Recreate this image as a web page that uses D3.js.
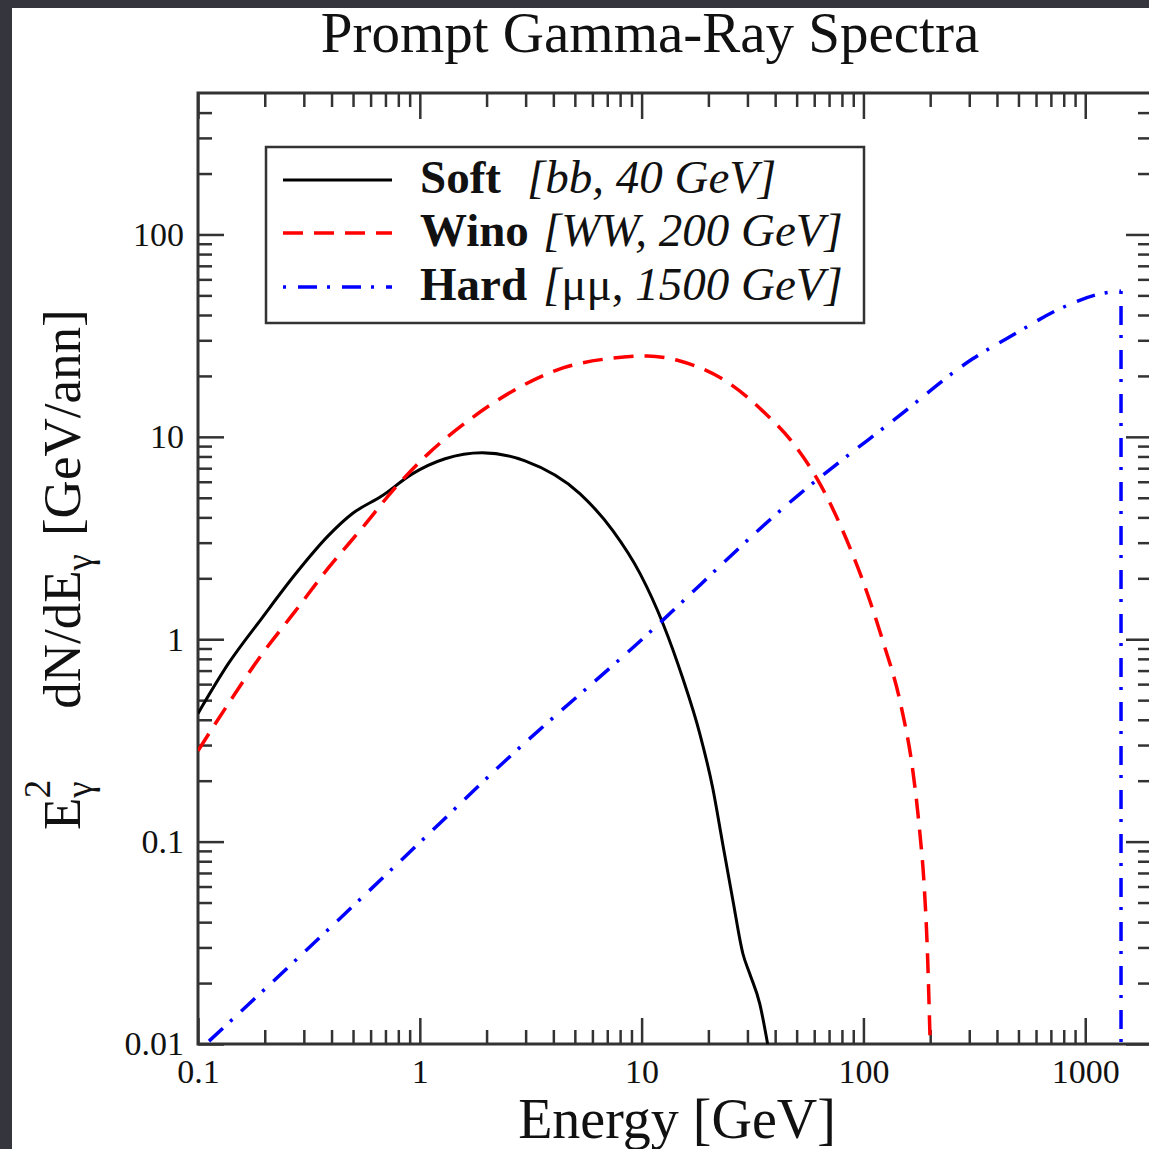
<!DOCTYPE html>
<html>
<head>
<meta charset="utf-8">
<script src="https://cdn.jsdelivr.net/npm/d3@7"></script>
<style>
  html, body { margin: 0; padding: 0; background: #ffffff; }
  svg { display: block; }
  text { font-family: "Liberation Serif", "Times New Roman", serif; fill: #111; }
</style>
</head>
<body>
<div id="chart"></div>
<script>
// ---------------- DATA ----------------
const xMajorTicks = [0.1, 1, 10, 100, 1000];
const xTickLabels = ["0.1", "1", "10", "100", "1000"];
const yMajorTicks = [0.01, 0.1, 1, 10, 100];
const yTickLabels = ["0.01", "0.1", "1", "10", "100"];

const seriesNames = ["Soft", "Wino", "Hard"];
const seriesNotesA = ["[bb, 40 GeV]", "[WW, 200 GeV]", "["];
const seriesNotesB = ["", "", "\u03bc\u03bc,"];
const seriesNotesC = ["", "", " 1500 GeV]"];

// Soft [bb, 40 GeV]
const softE = [0.1, 0.137, 0.195, 0.275, 0.387, 0.497, 0.676, 0.925, 1.30, 1.91, 2.98, 5.28, 7.43, 9.84, 12.5, 15.3, 18.3, 20.9, 23.2, 25.8, 28.6, 30.7, 34.1, 37];
const softV = [0.43, 0.757, 1.28, 2.10, 3.25, 4.18, 5.11, 6.56, 7.79, 8.34, 7.61, 5.23, 3.43, 2.11, 1.19, 0.645, 0.341, 0.185, 0.0977, 0.0512, 0.028, 0.0223, 0.0158, 0.01];

// Wino [WW, 200 GeV]
const winoE = [0.1, 0.137, 0.195, 0.275, 0.387, 0.55, 0.774, 1.09, 1.65, 2.64, 4.42, 7.43, 10.6, 14.9, 25.0, 35.2, 50.0, 63.7, 84, 99.6, 122, 148, 167, 179, 188, 194, 200];
const winoV = [0.281, 0.48, 0.848, 1.38, 2.25, 3.55, 5.60, 8.24, 12.0, 16.9, 21.9, 24.5, 25.1, 23.7, 18.3, 13.4, 8.83, 5.86, 3.10, 1.93, 0.99, 0.465, 0.224, 0.115, 0.060, 0.030, 0.01];

// Hard [mu mu, 1500 GeV]
const hardE = [0.1, 0.3, 1, 2.43, 9.55, 51.7, 141, 311, 490, 750, 1222, 1450];
const hardV = [0.0092, 0.0283, 0.099, 0.251, 0.95, 5.23, 12.4, 24.3, 32.6, 42.4, 51.4, 52.5];
const hardDropE = [1450, 1450];
const hardDropV = [52.5, 0.005];

// ---------------- LAYOUT ----------------
const W = 1149, H = 1149;
const L = 198, R = 1152, T = 93, B = 1044;
const font = '"Liberation Serif", "Times New Roman", serif';

const svg = d3.select("#chart").append("svg").attr("width", W).attr("height", H);

// dark frame
svg.append("rect").attr("x", 0).attr("y", 0).attr("width", W).attr("height", H).attr("fill", "#34353d");
svg.append("rect").attr("x", 12).attr("y", 8).attr("width", W - 12).attr("height", H - 8).attr("fill", "#ffffff");

const x = d3.scaleLog().domain([0.1, 2000]).range([L, R]);
const y = d3.scaleLog().domain([0.01, 500]).range([B, T]);

function minors(lo, hi) {
  const out = [];
  for (let d = lo; d < hi; d *= 10) for (let k = 2; k <= 9; k++) { const v = d * k; if (v < hi) out.push(v); }
  return out;
}
const xMinor = minors(0.1, 2000);
const yMinor = minors(0.01, 500);

const axisColor = "#333";
function styleAxis(g) {
  g.select(".domain").remove();
  g.selectAll(".tick line").attr("stroke", axisColor).attr("stroke-width", 2.5);
  g.selectAll(".tick text").attr("font-family", font).attr("font-size", 34).attr("fill", "#111");
}
const MAJ = 26, MIN = 14;

// bottom
svg.append("g").attr("transform", `translate(0,${B})`)
  .call(d3.axisBottom(x).tickValues(xMinor).tickSizeInner(-MIN).tickSizeOuter(0).tickFormat(""))
  .call(styleAxis);
svg.append("g").attr("transform", `translate(0,${B})`)
  .call(d3.axisBottom(x).tickValues(xMajorTicks).tickSizeInner(-MAJ).tickSizeOuter(0).tickPadding(15)
    .tickFormat((d, i) => xTickLabels[i]))
  .call(styleAxis);
// top
svg.append("g").attr("transform", `translate(0,${T})`)
  .call(d3.axisTop(x).tickValues(xMinor).tickSizeInner(-MIN).tickSizeOuter(0).tickFormat(""))
  .call(styleAxis);
svg.append("g").attr("transform", `translate(0,${T})`)
  .call(d3.axisTop(x).tickValues(xMajorTicks).tickSizeInner(-MAJ).tickSizeOuter(0).tickFormat(""))
  .call(styleAxis);
// left
svg.append("g").attr("transform", `translate(${L},0)`)
  .call(d3.axisLeft(y).tickValues(yMinor).tickSizeInner(-MIN).tickSizeOuter(0).tickFormat(""))
  .call(styleAxis);
svg.append("g").attr("transform", `translate(${L},0)`)
  .call(d3.axisLeft(y).tickValues(yMajorTicks).tickSizeInner(-MAJ).tickSizeOuter(0).tickPadding(14)
    .tickFormat((d, i) => yTickLabels[i]))
  .call(styleAxis);
// right
svg.append("g").attr("transform", `translate(${R},0)`)
  .call(d3.axisRight(y).tickValues(yMinor).tickSizeInner(-MIN).tickSizeOuter(0).tickFormat(""))
  .call(styleAxis);
svg.append("g").attr("transform", `translate(${R},0)`)
  .call(d3.axisRight(y).tickValues(yMajorTicks).tickSizeInner(-MAJ).tickSizeOuter(0).tickFormat(""))
  .call(styleAxis);

// frame
svg.append("rect").attr("x", L).attr("y", T).attr("width", R - L).attr("height", B - T)
  .attr("fill", "none").attr("stroke", axisColor).attr("stroke-width", 3);

// clip
svg.append("clipPath").attr("id", "plotclip").append("rect")
  .attr("x", L).attr("y", T).attr("width", R - L).attr("height", B - T);

const line = d3.line().x(d => x(d[0])).y(d => y(d[1])).curve(d3.curveMonotoneX);
const lineLin = d3.line().x(d => x(d[0])).y(d => y(d[1]));
const zip = (a, b) => a.map((v, i) => [v, b[i]]);

const plot = svg.append("g").attr("clip-path", "url(#plotclip)");
const styles = [
  { color: "#000000", dash: null, width: 3 },
  { color: "#ff0000", dash: "20,11", width: 3.5 },
  { color: "#0000ff", dash: "3,12,19,10", width: 3.5 }
];

plot.append("path").datum(zip(softE, softV)).attr("d", line)
  .attr("fill", "none").attr("stroke", styles[0].color).attr("stroke-width", styles[0].width);
plot.append("path").datum(zip(winoE, winoV)).attr("d", line)
  .attr("fill", "none").attr("stroke", styles[1].color).attr("stroke-width", styles[1].width)
  .attr("stroke-dasharray", styles[1].dash);
plot.append("path").datum(zip(hardE, hardV)).attr("d", line)
  .attr("fill", "none").attr("stroke", styles[2].color).attr("stroke-width", styles[2].width)
  .attr("stroke-dasharray", styles[2].dash);
plot.append("path").datum(zip(hardDropE, hardDropV)).attr("d", lineLin)
  .attr("fill", "none").attr("stroke", styles[2].color).attr("stroke-width", styles[2].width)
  .attr("stroke-dasharray", styles[2].dash);

// legend
const lg = svg.append("g");
lg.append("rect").attr("x", 266).attr("y", 147).attr("width", 598).attr("height", 176)
  .attr("fill", "#fff").attr("stroke", axisColor).attr("stroke-width", 2.5);
const rowY = [180, 233, 287];
const noteX = [527, 543, 543];
seriesNames.forEach((name, i) => {
  lg.append("line").attr("x1", 283).attr("x2", 392).attr("y1", rowY[i]).attr("y2", rowY[i])
    .attr("stroke", styles[i].color).attr("stroke-width", styles[i].width)
    .attr("stroke-dasharray", styles[i].dash);
  const t = lg.append("text").attr("x", 420).attr("y", rowY[i] + 13)
    .attr("font-size", 47).attr("font-family", font);
  t.append("tspan").attr("font-weight", "bold").text(name);
  t.append("tspan").attr("x", noteX[i]).attr("font-style", "italic").text(seriesNotesA[i]);
  if (seriesNotesB[i]) t.append("tspan").text(seriesNotesB[i]);
  if (seriesNotesC[i]) t.append("tspan").attr("font-style", "italic").text(seriesNotesC[i]);
});

// title
svg.append("text").attr("x", 650).attr("y", 52).attr("text-anchor", "middle")
  .attr("font-size", 57).attr("font-family", font).text("Prompt Gamma-Ray Spectra");

// x axis title
svg.append("text").attr("x", 677).attr("y", 1138).attr("text-anchor", "middle")
  .attr("font-size", 56).attr("font-family", font).text("Energy [GeV]");

// y axis title
const yt = svg.append("text").attr("transform", "translate(80,830) rotate(-90)")
  .attr("font-size", 53).attr("font-family", font);
yt.append("tspan").text("E");
yt.append("tspan").attr("font-size", 37).attr("dy", 12).text("\u03b3");
yt.append("tspan").attr("font-size", 37).attr("dx", -17).attr("dy", -42).text("2");
yt.append("tspan").attr("dx", 71).attr("dy", 30).text("dN/dE");
yt.append("tspan").attr("font-size", 37).attr("dy", 12).text("\u03b3");
yt.append("tspan").attr("dx", 18).attr("dy", -12).text("[GeV/ann]");
</script>
</body>
</html>
